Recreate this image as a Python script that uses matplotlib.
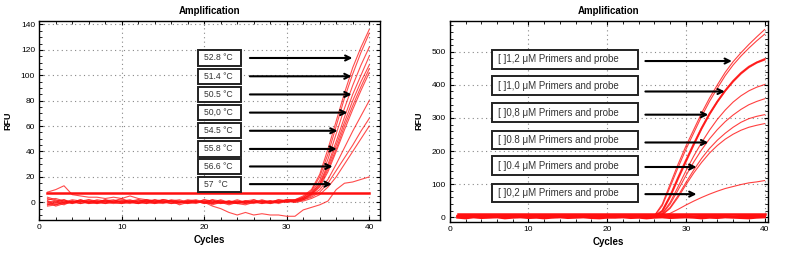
import numpy as np
import matplotlib.pyplot as plt
from matplotlib.patches import Rectangle
from matplotlib.ticker import MultipleLocator

plt.rcParams['font.family'] = ['Liberation Sans', 'DejaVu Sans']

# ---- left panel data (annealing temperature gradient) ----
cycles = np.arange(1, 41)

base_l = [
    [1, -2, 0, 2, 1, -1, 0, 2, 1, 0, -1, 1, 2, 0, -1, 1, 0, 2, 1, -1, 0, 1, -1, 0, 1, 2, 0, -1, 1, 0],
    [-2, 0, 2, -1, 1, 2, 0, -1, 1, 3, 0, -1, 1, 0, 2, 1, -2, 0, 1, 0, 2, -1, 0, 1, -1, 0, 1, 1, 0, 2],
    [3, 1, -1, 0, 2, 0, 1, -1, 0, 1, 2, 0, -1, 2, 1, 0, 1, -1, 0, 2, 1, 0, -2, 0, 1, 0, -1, 0, 2, 1],
    [-3, -2, 0, 1, -1, 0, 2, 1, 0, -1, 1, 0, 1, 2, 0, -1, 0, 1, 2, 0, -1, 0, 1, -1, 0, 1, 0, 1, -1, 1],
    [2, 3, 1, 0, -1, 1, 0, 1, 2, 0, 1, -1, 0, 1, 0, 2, 1, 0, -1, 1, 0, 2, 0, -1, 1, 0, 2, 0, 1, 2],
    [0, -3, -1, 1, 0, 2, 1, 0, -1, 0, 1, 2, 0, -1, 1, 0, -1, 1, 0, 1, -2, 0, 1, 0, -1, 2, 0, 1, 0, 1],
    [-1, 1, 2, 0, 1, -1, 0, 2, 0, 1, 0, 1, -1, 0, 2, 1, 0, 0, 1, -1, 1, 0, -1, 1, 0, -1, 1, 0, 0, 2],
    [1, 0, -2, 1, 0, 1, -1, 0, 1, 2, 1, 0, 1, -1, 0, 1, 2, 0, 1, 0, -1, 1, 0, 2, 0, 1, -1, 1, 1, 0],
    [4, 2, 0, -1, 1, 0, 1, 1, 0, -1, 0, 2, 1, 0, 1, -1, 0, 1, 0, 2, 0, -1, 1, 0, 1, 0, 1, -1, 0, 1],
    [-2, -1, 1, 0, 2, 0, -1, 1, 0, 1, 0, -1, 2, 1, 0, 1, 0, -1, 1, 0, 2, 1, 0, -1, -2, 0, 1, 0, 2, 1],
]
tail_l = [
    [2, 5, 10, 22, 42, 64, 86, 106, 122, 136],
    [2, 4, 9, 20, 38, 60, 82, 101, 118, 133],
    [1, 4, 8, 17, 34, 54, 74, 92, 108, 122],
    [1, 3, 7, 15, 30, 48, 67, 85, 100, 115],
    [2, 3, 7, 14, 28, 45, 63, 80, 95, 108],
    [1, 3, 6, 13, 26, 42, 60, 76, 91, 105],
    [1, 2, 6, 12, 24, 40, 57, 73, 88, 102],
    [1, 2, 5, 10, 18, 30, 43, 56, 68, 80],
    [0, 2, 4, 8, 15, 25, 35, 45, 56, 66],
    [0, 1, 3, 6, 12, 20, 30, 40, 50, 60],
]
low_l = [8, 10, 13, 6, 5, 4, 4, 3, 4, 3, 5, 3, 2, 1, 2, 1, 0, 1, 0, 0,
         -3, -5, -8, -10, -8, -10, -9, -10, -10, -11,
         -11, -6, -4, -2, 1, 10, 15, 16, 18, 20]
thresh_l = 7.5

labels_l = ["52.8 °C", "51.4 °C", "50.5 °C", "50,0 °C",
            "54.5 °C", "55.8 °C", "56.6 °C", "57  °C"]
label_y_l = [113.6, 99.2, 84.9, 70.6, 56.3, 42.0, 28.2, 14.3]
tip_x_l = [38.3, 38.2, 38.2, 37.7, 36.5, 36.4, 35.9, 35.8]

# ---- right panel data (primer/probe concentration) ----
noise_r = [
    [3, 4, 2, 3, 5, 4, 3, 2, 4, 3, 5, 4, 3, 2, 3, 4, 5, 3, 2, 4, 3, 4, 2, 3, 4],
    [1, 2, 0, 1, 2, 3, 1, 0, 2, 1, 1, 2, 0, 1, 2, 1, 3, 1, 0, 2, 1, 0, 2, 1, 2],
    [5, 6, 4, 5, 7, 5, 6, 4, 5, 6, 5, 4, 6, 5, 7, 5, 4, 6, 5, 5, 6, 4, 5, 6, 5],
]
tail_r = [
    [5, 40, 100, 160, 215, 265, 315, 360, 400, 438, 470, 497, 522, 545, 567],
    [4, 35, 92, 150, 205, 255, 305, 350, 390, 428, 460, 487, 511, 533, 553],
    [3, 20, 65, 120, 172, 222, 270, 313, 350, 383, 412, 436, 455, 468, 478],
    [3, 18, 62, 116, 168, 219, 268, 311, 349, 382, 410, 434, 453, 467, 476],
    [3, 12, 45, 92, 140, 185, 226, 263, 296, 324, 348, 367, 382, 393, 401],
    [2, 10, 40, 82, 126, 167, 204, 237, 265, 289, 309, 326, 340, 350, 358],
    [2, 8, 30, 65, 105, 143, 178, 208, 233, 254, 272, 287, 298, 305, 310],
    [2, 7, 27, 60, 98, 134, 166, 194, 217, 236, 251, 263, 272, 278, 283],
    [2, 4, 12, 24, 37, 49, 60, 70, 79, 87, 93, 99, 104, 107, 111],
]
bold_r = [2, 3]  # the two overlapping 1,0 uM curves look heavier
flat_r = [
    [0, -2, 1, -1, 0, 1, -2, 0, 1, -1, 0, -2, 0, 1, -1, 0, 1, -1, -2, 0,
     0, 1, -1, 0, -2, 0, 1, -1, 0, 1, 0, -2, 0, -1, 1, 0, -1, -2, 0, 1],
    [3, 2, 4, 3, 2, 3, 4, 3, 2, 3, 3, 4, 2, 3, 3, 2, 4, 3, 3, 2,
     3, 4, 3, 2, 3, 3, 2, 4, 3, 3, 2, 3, 4, 3, 3, 2, 3, 3, 4, 3],
]
thresh_r = 9

labels_r = ["[ ]1,2 μM Primers and probe", "[ ]1,0 μM Primers and probe",
            "[ ]0,8 μM Primers and probe", "[ ]0.8 μM Primers and probe",
            "[ ]0.4 μM Primers and probe", "[ ]0,2 μM Primers and probe"]
label_y_r = [477, 398, 316, 234, 156, 74]
arrow_y_r = [472, 380, 310, 226, 152, 70]
tip_x_r = [36.2, 35.3, 33.2, 33.2, 31.7, 31.7]

red = '#ff1010'
arrow_kw = dict(arrowstyle='->', color='black', lw=1.5, mutation_scale=9)

fig = plt.figure(figsize=(7.85, 2.58), dpi=100)
ax1 = fig.add_axes([0.050, 0.147, 0.434, 0.773])
ax2 = fig.add_axes([0.573, 0.141, 0.405, 0.779])


def style(ax):
    ax.grid(True, which='major', linestyle=(0, (1, 3)), color='#888888', linewidth=0.8)
    ax.tick_params(which='both', direction='in', top=True, right=True,
                   labelsize=6, colors='black', pad=3)
    ax.tick_params(which='major', length=3)
    ax.tick_params(which='minor', length=2)
    for s in ax.spines.values():
        s.set_linewidth(1.0)
    ax.set_title("Amplification", fontsize=7, fontweight='bold', pad=5)
    ax.set_xlabel("Cycles", fontsize=7, fontweight='bold', labelpad=3)
    ax.set_ylabel("RFU", fontsize=6.5, fontweight='bold', labelpad=6)


# left
for b, t in zip(base_l, tail_l):
    ax1.plot(cycles, b + t, color=red, lw=0.8, alpha=0.75)
ax1.plot(cycles, low_l, color=red, lw=0.8, alpha=0.75)
ax1.plot([cycles[0], cycles[-1]], [thresh_l, thresh_l], color=red, lw=1.8)
ax1.set_xlim(0, 41.3)
ax1.set_ylim(-14, 143)
ax1.xaxis.set_major_locator(MultipleLocator(10))
ax1.xaxis.set_minor_locator(MultipleLocator(2))
ax1.yaxis.set_major_locator(MultipleLocator(20))
ax1.yaxis.set_minor_locator(MultipleLocator(5))
style(ax1)

for lab, yv, tx in zip(labels_l, label_y_l, tip_x_l):
    ax1.add_patch(Rectangle((19.3, yv - 6.0), 5.2, 12.0, facecolor='white',
                            edgecolor='#222222', lw=1.4, zorder=5))
    ax1.text(19.95, yv, lab, fontsize=6.2, va='center', ha='left', color='#333333', zorder=6)
    ax1.annotate("", xy=(tx, yv), xytext=(25.2, yv), arrowprops=arrow_kw, zorder=6)

# right
for i, t in enumerate(tail_r):
    lw = 1.3 if i in bold_r else 0.8
    ax2.plot(cycles, noise_r[i % 3] + t, color=red, lw=lw, alpha=0.8)
for f in flat_r:
    ax2.plot(cycles, f, color=red, lw=2.0)
ax2.plot([cycles[0], cycles[-1]], [thresh_r, thresh_r], color=red, lw=1.8)
ax2.set_xlim(0, 40.4)
ax2.set_ylim(-13, 594)
ax2.xaxis.set_major_locator(MultipleLocator(10))
ax2.xaxis.set_minor_locator(MultipleLocator(2))
ax2.yaxis.set_major_locator(MultipleLocator(100))
ax2.yaxis.set_minor_locator(MultipleLocator(20))
style(ax2)

for lab, yv, ay, tx in zip(labels_r, label_y_r, arrow_y_r, tip_x_r):
    ax2.add_patch(Rectangle((5.37, yv - 28), 18.6, 56, facecolor='white',
                            edgecolor='#222222', lw=1.4, zorder=5))
    ax2.text(6.1, yv, lab, fontsize=7, va='center', ha='left', color='#333333', zorder=6)
    ax2.annotate("", xy=(tx, ay), xytext=(24.5, ay), arrowprops=arrow_kw, zorder=6)

fig.savefig("out.png", dpi=100)
